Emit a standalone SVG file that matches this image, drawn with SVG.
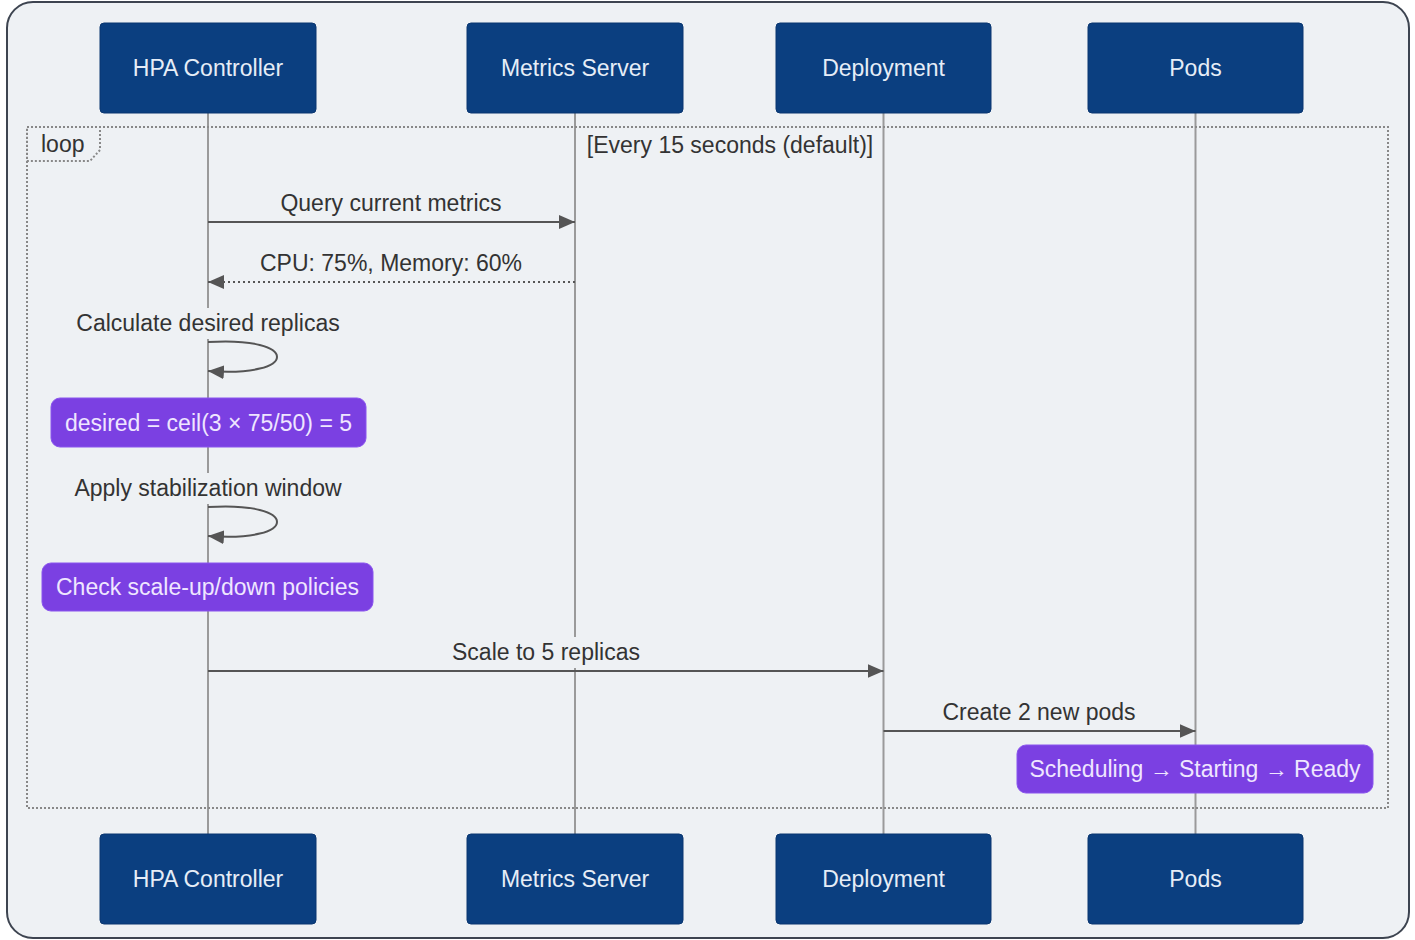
<svg xmlns="http://www.w3.org/2000/svg" width="1415" height="940" viewBox="0 0 1415 940">
<defs>
<style>
.actor rect{fill:#0b3f80;stroke:#0a3670;stroke-width:1}
.actor text{fill:#e6edf7;font-family:"Liberation Sans",Arial,sans-serif;font-size:23px;text-anchor:middle;dominant-baseline:central}
.life{stroke:#9a9a9a;stroke-width:2}
.msg{stroke:#555;stroke-width:2;fill:none}
.dot{stroke-dasharray:2 3}
.lbl{fill:#333;font-family:"Liberation Sans",Arial,sans-serif;font-size:23px;text-anchor:middle}
.lblbg{fill:#eef1f4}
.note rect{fill:#7b40e2;stroke:#8a55ee;stroke-width:1}
.note text{fill:#efe6ff;font-family:"Liberation Sans",Arial,sans-serif;font-size:23px;text-anchor:middle;dominant-baseline:central}
.frame{fill:none;stroke:#888;stroke-width:2;stroke-dasharray:2 2}
</style>
<marker id="ah" viewBox="0 0 16 14" refX="16" refY="7" markerWidth="16" markerHeight="14" markerUnits="userSpaceOnUse" orient="auto">
<path d="M0,0 L16,7 L0,14 z" fill="#555"/>
</marker>
</defs>
<rect x="0" y="0" width="1415" height="940" fill="#ffffff"/>
<rect x="7" y="2" width="1402" height="936" rx="26" fill="#eef1f4" stroke="#3d4450" stroke-width="2"/>
<g id="lifelines">
<line class="life" x1="208" y1="113" x2="208" y2="834"/>
<line class="life" x1="575" y1="113" x2="575" y2="834"/>
<line class="life" x1="883.5" y1="113" x2="883.5" y2="834"/>
<line class="life" x1="1195.5" y1="113" x2="1195.5" y2="834"/>
</g>
<g id="loop">
<rect class="frame" x="27" y="127" width="1361" height="681"/>
<polygon class="frame" points="27,127 100,127 100,150 90,161 27,161"/>
<text x="41" y="152" style="fill:#333;font-family:'Liberation Sans',Arial,sans-serif;font-size:23px">loop</text>
<text class="lbl" x="730" y="153">[Every 15 seconds (default)]</text>
</g>
<g id="actor-hpa" class="actor"><rect x="100" y="23" width="216" height="90" rx="4"/><text x="208" y="68">HPA Controller</text></g>
<g id="actor-metrics" class="actor"><rect x="467" y="23" width="216" height="90" rx="4"/><text x="575" y="68">Metrics Server</text></g>
<g id="actor-deploy" class="actor"><rect x="776" y="23" width="215" height="90" rx="4"/><text x="883.5" y="68">Deployment</text></g>
<g id="actor-pods" class="actor"><rect x="1088" y="23" width="215" height="90" rx="4"/><text x="1195.5" y="68">Pods</text></g>
<g id="actor-hpa-bottom" class="actor"><rect x="100" y="834" width="216" height="90" rx="4"/><text x="208" y="879">HPA Controller</text></g>
<g id="actor-metrics-bottom" class="actor"><rect x="467" y="834" width="216" height="90" rx="4"/><text x="575" y="879">Metrics Server</text></g>
<g id="actor-deploy-bottom" class="actor"><rect x="776" y="834" width="215" height="90" rx="4"/><text x="883.5" y="879">Deployment</text></g>
<g id="actor-pods-bottom" class="actor"><rect x="1088" y="834" width="215" height="90" rx="4"/><text x="1195.5" y="879">Pods</text></g>
<g id="connectors">
<line class="msg" x1="208" y1="222" x2="575" y2="222" marker-end="url(#ah)"/>
<text class="lbl" x="391" y="211">Query current metrics</text>
<line class="msg dot" x1="575" y1="282" x2="208" y2="282" marker-end="url(#ah)"/>
<text class="lbl" x="391" y="271">CPU: 75%, Memory: 60%</text>
<rect class="lblbg" x="76" y="308" width="265" height="31"/>
<text class="lbl" x="208" y="331">Calculate desired replicas</text>
<path class="msg" d="M208,342 C300,336 300,378 208,371" marker-end="url(#ah)"/>
<rect class="lblbg" x="74" y="473" width="269" height="31"/>
<text class="lbl" x="208" y="496">Apply stabilization window</text>
<path class="msg" d="M208,507 C300,501 300,543 208,536" marker-end="url(#ah)"/>
<rect class="lblbg" x="451" y="637" width="190" height="31"/>
<line class="msg" x1="208" y1="671" x2="883.5" y2="671" marker-end="url(#ah)"/>
<text class="lbl" x="546" y="660">Scale to 5 replicas</text>
<line class="msg" x1="883.5" y1="731" x2="1195.5" y2="731" marker-end="url(#ah)"/>
<text class="lbl" x="1039" y="720">Create 2 new pods</text>
</g>
<g id="note-desired" class="note"><rect x="51" y="398" width="315" height="49" rx="9"/><text x="208.5" y="423">desired = ceil(3 × 75/50) = 5</text></g>
<g id="note-policies" class="note"><rect x="42" y="563" width="331" height="48" rx="9"/><text x="207.5" y="587">Check scale-up/down policies</text></g>
<g id="note-pods" class="note"><rect x="1017" y="745" width="356" height="48" rx="9"/><text x="1195" y="769">Scheduling → Starting → Ready</text></g>
</svg>
